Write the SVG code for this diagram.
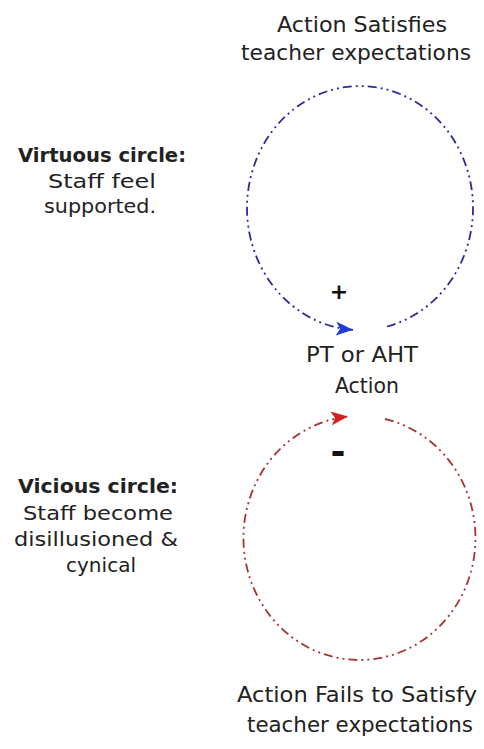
<svg xmlns="http://www.w3.org/2000/svg" width="484" height="749" viewBox="0 0 484 749">
  <style>
    text { font-family: "Comic Sans MS", "DejaVu Sans", sans-serif; fill: #222; }
    .lbl { font-size: 21px; text-anchor: middle; }
    .side { font-size: 19px; text-anchor: middle; }
    .head { font-size: 19px; font-weight: bold; text-anchor: middle; }
    .sign { font-weight: bold; text-anchor: middle; fill: #111; }
    .loop { fill: none; stroke-width: 1.8; stroke-dasharray: 9 4 2 4 2 4; }
    .blue { stroke: #2b2b95; }
    .red { stroke: #a83232; }
  </style>
  <defs>
    <marker id="arrow-blue" markerUnits="userSpaceOnUse" markerWidth="18" markerHeight="14" refX="17" refY="7" orient="auto">
      <path d="M0,0 L17,7 L0,14 L4,7 Z" fill="#1f3bd6"/>
    </marker>
    <marker id="arrow-red" markerUnits="userSpaceOnUse" markerWidth="18" markerHeight="14" refX="17" refY="7" orient="auto">
      <path d="M0,0 L17,7 L0,14 L4,7 Z" fill="#d42222"/>
    </marker>
  </defs>
  <rect width="484" height="749" fill="#ffffff"/>

  <!-- feedback loops -->
  <g id="connectors">
    <path id="loop-virtuous" class="loop blue" d="M387,326.5 A113,122 0 1 0 353,329.8" marker-end="url(#arrow-blue)"/>
    <path id="loop-vicious" class="loop red" d="M385,419 A116,122 0 1 1 348,416.6" marker-end="url(#arrow-red)"/>
  </g>

  <g id="node-satisfies">
    <text class="lbl" x="362" y="32" textLength="170" lengthAdjust="spacingAndGlyphs">Action Satisfies</text>
    <text class="lbl" x="356" y="60" textLength="230" lengthAdjust="spacingAndGlyphs">teacher expectations</text>
  </g>

  <g id="node-virtuous">
    <text class="head" x="102" y="162" textLength="168" lengthAdjust="spacingAndGlyphs">Virtuous circle:</text>
    <text class="side" x="102" y="188" textLength="108" lengthAdjust="spacingAndGlyphs">Staff feel</text>
    <text class="side" x="100" y="213" textLength="112" lengthAdjust="spacingAndGlyphs">supported.</text>
  </g>

  <g id="node-plus">
    <text class="sign" x="339" y="299" font-size="22">+</text>
  </g>

  <g id="node-action">
    <text class="lbl" x="362" y="362" textLength="112" lengthAdjust="spacingAndGlyphs">PT or AHT</text>
    <text class="lbl" x="367" y="393" textLength="64" lengthAdjust="spacingAndGlyphs">Action</text>
  </g>

  <g id="node-minus">
    <text class="sign" x="338" y="464" font-size="36">-</text>
  </g>

  <g id="node-vicious">
    <text class="head" x="98" y="493" textLength="160" lengthAdjust="spacingAndGlyphs">Vicious circle:</text>
    <text class="side" x="98" y="520" textLength="150" lengthAdjust="spacingAndGlyphs">Staff become</text>
    <text class="side" x="96" y="546" textLength="164" lengthAdjust="spacingAndGlyphs">disillusioned &amp;</text>
    <text class="side" x="101" y="572" textLength="70" lengthAdjust="spacingAndGlyphs">cynical</text>
  </g>

  <g id="node-fails">
    <text class="lbl" x="357" y="702" textLength="240" lengthAdjust="spacingAndGlyphs">Action Fails to Satisfy</text>
    <text class="lbl" x="360" y="732" textLength="226" lengthAdjust="spacingAndGlyphs">teacher expectations</text>
  </g>
</svg>
